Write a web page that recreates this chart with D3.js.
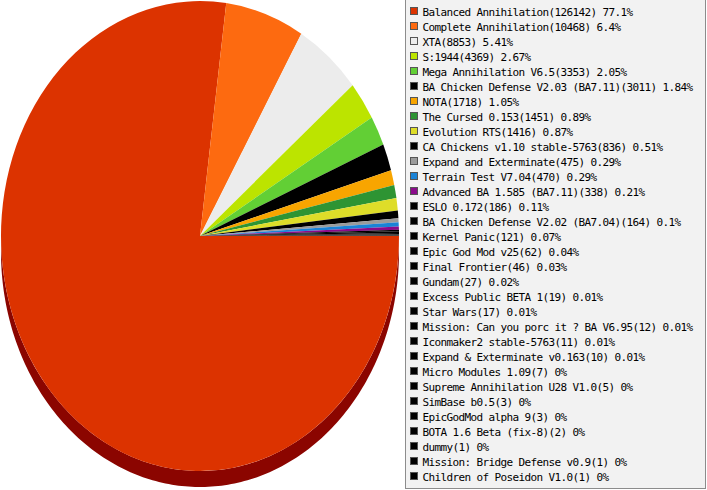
<!DOCTYPE html>
<html>
<head>
<meta charset="utf-8">
<script src="https://cdn.jsdelivr.net/npm/d3@7"></script>
<style>
  body { margin: 0; background: #fff; }
  svg { display: block; }
</style>
</head>
<body>
<div id="chart"></div>
<script>
// mod names, game counts and the percent labels as printed in the legend
const mods = [
  "Balanced Annihilation", "Complete Annihilation", "XTA", "S:1944",
  "Mega Annihilation V6.5", "BA Chicken Defense V2.03 (BA7.11)", "NOTA",
  "The Cursed 0.153", "Evolution RTS", "CA Chickens v1.10 stable-5763",
  "Expand and Exterminate", "Terrain Test V7.04", "Advanced BA 1.585 (BA7.11)",
  "ESLO 0.172", "BA Chicken Defense V2.02 (BA7.04)", "Kernel Panic",
  "Epic God Mod v25", "Final Frontier", "Gundam", "Excess Public BETA 1",
  "Star Wars", "Mission: Can you porc it ? BA V6.95", "Iconmaker2 stable-5763",
  "Expand & Exterminate v0.163", "Micro Modules 1.09", "Supreme Annihilation U28 V1.0",
  "SimBase b0.5", "EpicGodMod alpha 9", "BOTA 1.6 Beta (fix-8)", "dummy",
  "Mission: Bridge Defense v0.9", "Children of Poseidon V1.0"
];
const games = [
  126142, 10468, 8853, 4369, 3353, 3011, 1718, 1451, 1416, 836,
  475, 470, 338, 186, 164, 121, 62, 46, 27, 19,
  17, 12, 11, 10, 7, 5, 3, 3, 2, 1, 1, 1
];
const pctLabels = [
  "77.1%", "6.4%", "5.41%", "2.67%", "2.05%", "1.84%", "1.05%", "0.89%", "0.87%", "0.51%",
  "0.29%", "0.29%", "0.21%", "0.11%", "0.1%", "0.07%", "0.04%", "0.03%", "0.02%", "0.01%",
  "0.01%", "0.01%", "0.01%", "0.01%", "0%", "0%", "0%", "0%", "0%", "0%", "0%", "0%"
];
const sliceColors = [
  "#dc3300", "#fd6a10", "#ececec", "#bce400", "#62cf35", "#000000", "#f8a500",
  "#2e9433", "#dedd29", "#000000", "#9b9b9b", "#1a83d7", "#8a0b8a"
];

const width = 707, height = 490;
const cx = 200, cy = 236, rx = 199, ry = 235, depth = 16;

const data = mods.map((m, i) => ({
  name: m, value: games[i], pct: pctLabels[i],
  color: sliceColors[i] || "#000000"
}));

const svg = d3.select("#chart").append("svg")
  .attr("width", width)
  .attr("height", height);

// slices go clockwise from 3 o'clock
const pie = d3.pie()
  .sort(null)
  .value(d => d.value)
  .startAngle(Math.PI / 2)
  .endAngle(Math.PI / 2 + 2 * Math.PI);

const arcs = pie(data);

// shade for the wall, red goes to plain dark red like the original
function shade(c) {
  const r = d3.rgb(c);
  return d3.rgb(r.r * 0.63, r.g * 0.1, r.b * 0.1);
}

// side wall of the tilted pie (only the front half can be seen)
const pt = (a, dy) => [cx + rx * Math.sin(a), cy - ry * Math.cos(a) + dy];
const wall = d3.line();
const side = svg.append("g");
arcs.forEach(d => {
  const a0 = Math.max(d.startAngle, Math.PI / 2);
  const a1 = Math.min(d.endAngle, 3 * Math.PI / 2);
  if (a1 <= a0) return;
  const n = Math.max(2, Math.ceil((a1 - a0) * 60));
  const top = d3.range(n + 1).map(k => pt(a0 + (a1 - a0) * k / n, 0));
  const bottom = top.map(p => [p[0], p[1] + depth]).reverse();
  side.append("path")
    .attr("d", wall(top.concat(bottom)) + "Z")
    .attr("fill", shade(d.data.color));
});

// top face: unit arcs stretched into the ellipse
const arc = d3.arc().innerRadius(0).outerRadius(1);
svg.append("g")
  .attr("transform", `translate(${cx},${cy}) scale(${rx},${ry})`)
  .selectAll("path")
  .data(arcs)
  .join("path")
  .attr("d", arc)
  .attr("fill", d => d.data.color);

// legend
const legend = svg.append("g");
legend.append("rect")
  .attr("x", 405.5).attr("y", -0.5)
  .attr("width", 300).attr("height", 489)
  .attr("fill", "#f2f2f2")
  .attr("stroke", "#8c8c8c");

const rowY = d3.scaleLinear().domain([0, 1]).range([16, 31]);

const rows = legend.selectAll("g.row")
  .data(data)
  .join("g")
  .attr("class", "row")
  .attr("transform", (d, i) => `translate(0,${rowY(i)})`);

rows.append("rect")
  .attr("x", 410.5).attr("y", -8.5)
  .attr("width", 7).attr("height", 7)
  .attr("fill", d => d.color)
  .attr("stroke", "#555");

rows.append("text")
  .attr("x", 422.5)
  .attr("y", 0)
  .attr("font-family", "DejaVu Sans Mono, monospace")
  .attr("font-size", "11px")
  .attr("letter-spacing", "-0.62px")
  .attr("fill", "#000")
  .text(d => `${d.name}(${d.value}) ${d.pct}`);
</script>
</body>
</html>
